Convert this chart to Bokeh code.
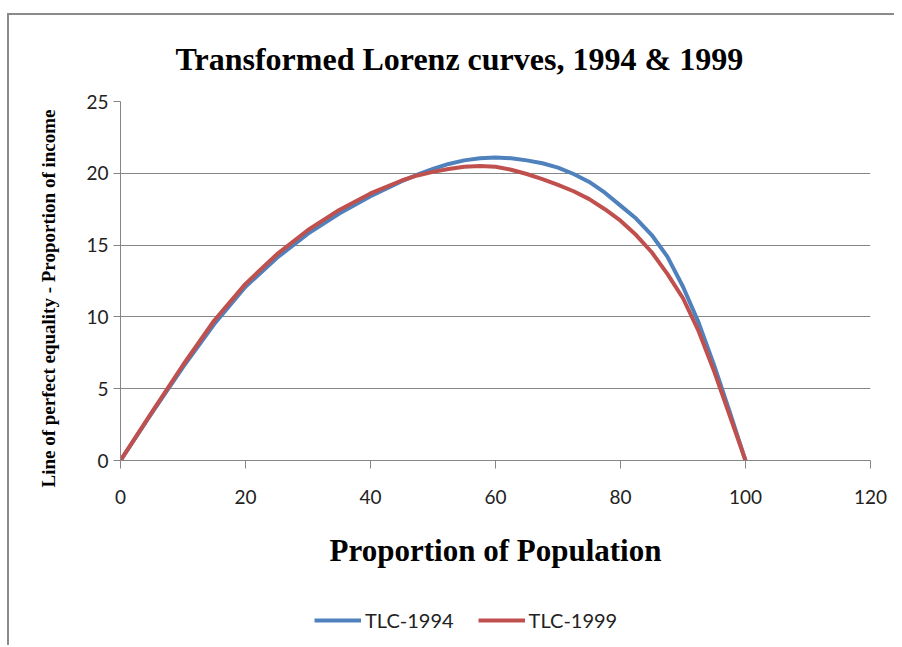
from bokeh.plotting import figure
from bokeh.models import Legend, LegendItem, Title, FixedTicker
from bokeh.layouts import column
from bokeh.embed import file_html
from bokeh.resources import INLINE

# ---- data ----
pop_1994 = [0, 5, 10, 15, 20, 25, 30, 35, 40, 45, 47.5, 50, 52.5, 55, 57.5, 60,
            62.5, 65, 67.5, 70, 72.5, 75, 77.5, 80, 82.5, 85, 87.5, 90, 92.5,
            95, 97.5, 100]
tlc_1994 = [0, 3.3, 6.5, 9.5, 12.1, 14.1, 15.8, 17.2, 18.4, 19.45, 19.9, 20.3,
            20.65, 20.9, 21.05, 21.1, 21.05, 20.9, 20.7, 20.4, 19.95, 19.4,
            18.65, 17.75, 16.85, 15.7, 14.2, 12.1, 9.6, 6.6, 3.35, 0]
pop_1999 = [0, 5, 10, 15, 20, 25, 30, 35, 40, 45, 47.5, 50, 52.5, 55, 57.5, 60,
            62.5, 65, 67.5, 70, 72.5, 75, 77.5, 80, 82.5, 85, 87.5, 90, 92.5,
            95, 97.5, 100]
tlc_1999 = [0, 3.35, 6.65, 9.75, 12.3, 14.35, 16.05, 17.45, 18.6, 19.5, 19.85,
            20.1, 20.3, 20.45, 20.5, 20.45, 20.25, 19.95, 19.6, 19.2, 18.75,
            18.2, 17.5, 16.7, 15.7, 14.5, 13.0, 11.3, 9.0, 6.2, 3.1, 0]
series_names = ["TLC-1994", "TLC-1999"]
series_colors = ["#4F81BD", "#C0504D"]
x_ticks = [0, 20, 40, 60, 80, 100, 120]
y_ticks = [0, 5, 10, 15, 20, 25]

GRID = "#868686"
TICK_FONT = "Lato"
W = 885

# ---------------- main chart ----------------
p = figure(width=W, height=580, x_range=(0, 120), y_range=(0, 25),
           output_backend="svg", toolbar_location=None,
           min_border_left=111, min_border_right=24,
           min_border_top=86, min_border_bottom=135)
p.outline_line_color = None
p.background_fill_color = "white"
p.border_fill_color = "white"

p.title.text = "Transformed Lorenz curves, 1994 & 1999"
p.title.text_font = "Liberation Serif"
p.title.text_font_size = "32px"
p.title.text_font_style = "bold"
p.title.text_color = "black"
p.title.align = "left"
p.title.vertical_align = "top"
p.title.offset = 55
p.title.standoff = 45

for ax, ticks, out in ((p.xaxis, x_ticks, 8), (p.yaxis, y_ticks, 7)):
    ax.ticker = FixedTicker(ticks=ticks)
    ax.axis_line_color = GRID
    ax.major_tick_line_color = GRID
    ax.major_tick_out = out
    ax.major_tick_in = 0
    ax.minor_tick_line_color = None
    ax.major_label_text_font = TICK_FONT
    ax.major_label_text_font_size = "19px"
    ax.major_label_text_color = "#222222"

p.xaxis.major_label_standoff = 21
p.yaxis.major_label_standoff = 5
p.xaxis.axis_label = "Proportion of Population"
p.xaxis.axis_label_text_font = "Liberation Serif"
p.xaxis.axis_label_text_font_size = "31px"
p.xaxis.axis_label_text_font_style = "bold"
p.xaxis.axis_label_text_color = "black"
p.xaxis.axis_label_standoff = 26

ylab = Title(text="Line of perfect equality - Proportion of income",
             text_font="Liberation Serif", text_font_size="19px",
             text_font_style="bold", text_color="black",
             align="left", offset=-27, standoff=50)
p.add_layout(ylab, "left")

p.xgrid.grid_line_color = None
p.ygrid.ticker = FixedTicker(ticks=y_ticks)
p.ygrid.grid_line_color = GRID
p.ygrid.grid_line_width = 1

p.line(pop_1994, tlc_1994, line_color=series_colors[0], line_width=4,
       line_join="round", line_cap="round")
p.line(pop_1999, tlc_1999, line_color=series_colors[1], line_width=4,
       line_join="round", line_cap="round")

# ---------------- legend strip ----------------
# same series drawn outside this strip's visible ranges; only the legend shows
q = figure(width=W, height=50, x_range=(-20, -10), y_range=(-20, -10),
           output_backend="svg", toolbar_location=None,
           x_axis_location=None, y_axis_location=None,
           min_border=0)
q.outline_line_color = None
q.grid.visible = False
q.border_fill_color = "white"
proxies = [q.line(pop_1994, tlc_1994, line_color=series_colors[0], line_width=4),
           q.line(pop_1999, tlc_1999, line_color=series_colors[1], line_width=4)]
legend = Legend(items=[LegendItem(label=n, renderers=[r])
                       for n, r in zip(series_names, proxies)],
                orientation="horizontal", location=(194, 13),
                label_text_font=TICK_FONT, label_text_font_size="20px",
                label_text_color="#222222", glyph_width=47, glyph_height=20,
                label_standoff=4, spacing=24, padding=0, margin=0,
                border_line_color=None, background_fill_alpha=0)
q.add_layout(legend, "center")

layout = column(p, q, spacing=0,
                styles={"border-left": "2px solid #8a8a8a",
                        "border-top": "2px solid #8a8a8a",
                        "margin-top": "13px", "margin-left": "7px"})

html = file_html(layout, INLINE)
open("out.html", "w").write(html)
